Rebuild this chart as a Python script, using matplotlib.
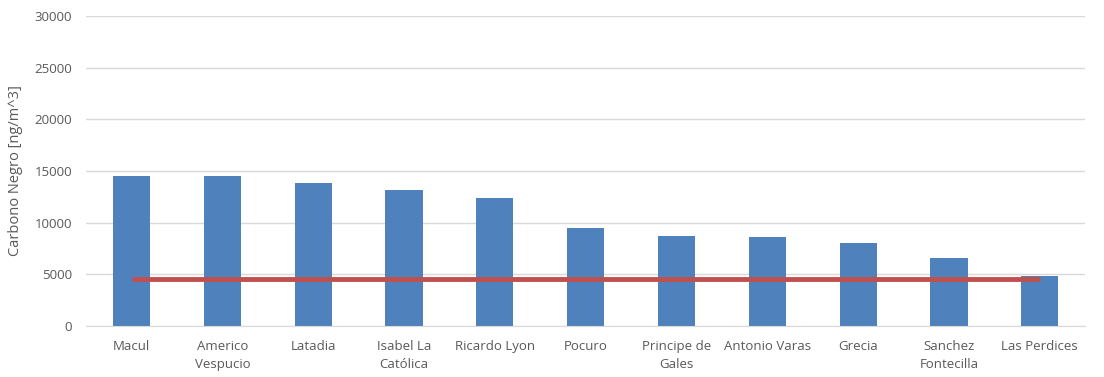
import matplotlib.pyplot as plt
import numpy as np

# Carbono negro por estación
estaciones = ['Macul', 'Americo\nVespucio', 'Latadia', 'Isabel La\nCatólica', 'Ricardo Lyon',
              'Pocuro', 'Principe de\nGales', 'Antonio Varas', 'Grecia', 'Sanchez\nFontecilla',
              'Las Perdices']
carbono_negro = [14500, 14500, 13850, 13150, 12400, 9500, 8700, 8600, 8000, 6600, 4850]
# Nivel de referencia (línea roja)
referencia = 4580

plt.rcParams['font.family'] = ['Open Sans', 'DejaVu Sans']

fig = plt.figure(figsize=(11.04, 3.77), dpi=100)
ax = fig.add_axes([0.078, 0.135, 0.905, 0.823])

x = np.arange(len(estaciones))
ax.bar(x, carbono_negro, width=0.41, color='#4F81BD', zorder=2)
ax.plot([x[0], x[-1]], [referencia, referencia], color='#C0504D', linewidth=3.5,
        solid_capstyle='butt', zorder=3)

ax.set_xlim(-0.5, len(estaciones) - 0.5)
ax.set_ylim(0, 30000)
ax.set_yticks(range(0, 30001, 5000))
ax.set_xticks(x)
ax.set_xticklabels(estaciones, fontsize=9.5, color='#595959', linespacing=1.5)
ax.tick_params(axis='y', labelsize=9.5, labelcolor='#595959', length=0, pad=10)
ax.tick_params(axis='x', length=0, pad=10)
ax.grid(axis='y', color='#D9D9D9', linewidth=1, zorder=0)
for s in ['top', 'right', 'left']:
    ax.spines[s].set_visible(False)
ax.spines['bottom'].set_color('#D9D9D9')

ax.set_ylabel('Carbono Negro [ng/m^3]', fontsize=10.5, color='#595959', labelpad=8)

fig.savefig('out.png', dpi=100)
